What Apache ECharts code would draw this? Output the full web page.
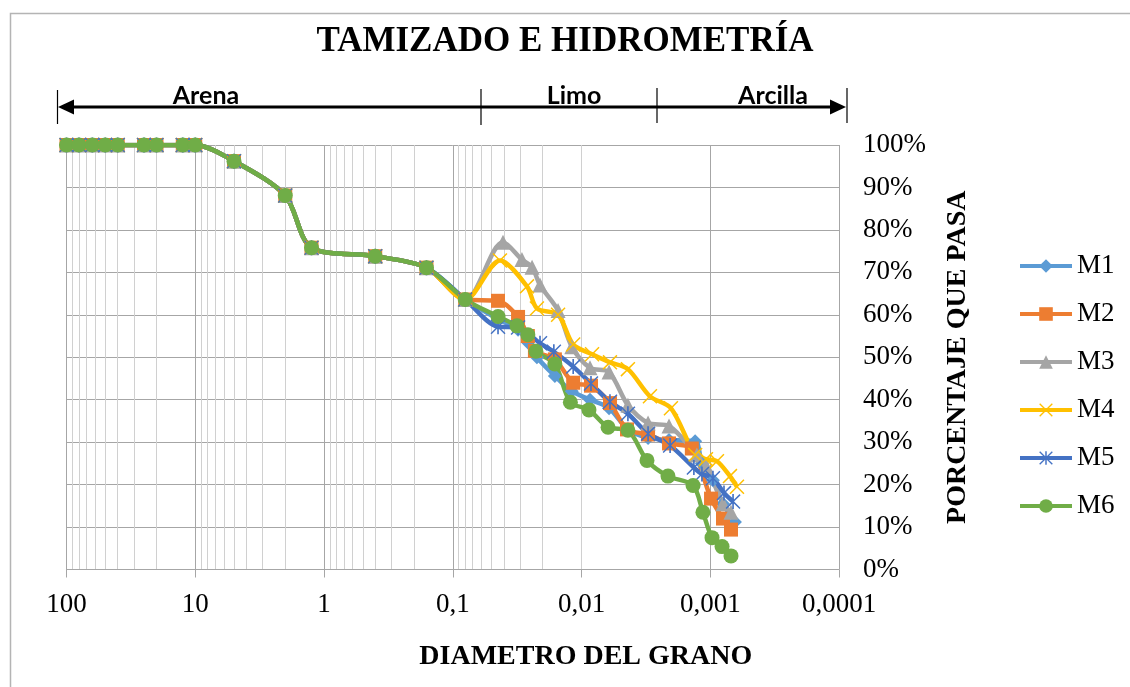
<!DOCTYPE html>
<html>
<head>
<meta charset="utf-8">
<script src="https://cdn.jsdelivr.net/npm/echarts@6/dist/echarts.min.js"></script>
<style>
html,body{margin:0;padding:0;background:#fff;}
#chart{width:1130px;height:687px;}
</style>
</head>
<body>
<div id="chart"></div>
<script>
// ---- Data ----
const seriesNames = ['M1', 'M2', 'M3', 'M4', 'M5', 'M6'];
// sieve analysis (mm) common to all samples
const sieveD = [100, 80, 63, 50, 40, 25, 20, 12.5, 10, 5, 2, 1.25, 0.4, 0.16, 0.08];
const sieveP = [100, 100, 100, 100, 100, 100, 100, 100, 100, 96.2, 88.1, 75.8, 73.8, 71.1, 63.6];
// hydrometer results per sample
const m1D = [0.0445, 0.0311, 0.0261, 0.0222, 0.0161, 0.0119, 0.00859, 0.00611, 0.00436, 0.00304, 0.00209, 0.00131, 0.00116, 0.000953, 0.000796, 0.000643];
const m1P = [59.0, 56.5, 53.5, 50.0, 45.6, 42.0, 40.0, 38.0, 33.0, 31.0, 30.5, 30.2, 25.0, 21.0, 15.5, 11.2];
const m2D = [0.0445, 0.0311, 0.0261, 0.0230, 0.0161, 0.0116, 0.00844, 0.00601, 0.00443, 0.00304, 0.00209, 0.00139, 0.000986, 0.000796, 0.000690];
const m2P = [63.3, 59.5, 55.0, 51.5, 49.5, 44.0, 43.3, 39.2, 33.0, 31.8, 29.7, 28.5, 16.7, 12.0, 9.4];
const m3D = [0.0407, 0.0290, 0.0242, 0.0210, 0.0152, 0.0119, 0.00859, 0.00611, 0.00436, 0.00304, 0.00209, 0.00127, 0.00108, 0.000796, 0.000690];
const m3P = [77.1, 73.0, 71.2, 67.0, 61.0, 52.5, 47.5, 46.5, 38.7, 34.5, 33.8, 27.0, 24.5, 15.5, 13.5];
const m4D = [0.0430, 0.0265, 0.0222, 0.0152, 0.0116, 0.00828, 0.00601, 0.00436, 0.00294, 0.00202, 0.00131, 0.00108, 0.000887, 0.000703, 0.000620];
const m4P = [72.8, 66.7, 61.5, 60.0, 53.0, 50.7, 48.8, 47.2, 40.8, 38.0, 27.0, 26.0, 25.5, 22.0, 19.5];
const m5D = [0.0445, 0.0311, 0.0210, 0.0164, 0.0116, 0.00844, 0.00601, 0.00436, 0.00304, 0.00205, 0.00134, 0.00116, 0.000953, 0.000782, 0.000665];
const m5P = [57.2, 57.0, 53.3, 51.3, 47.8, 43.8, 39.5, 36.7, 32.0, 29.2, 24.0, 22.5, 21.5, 18.0, 16.0];
const m6D = [0.0445, 0.0317, 0.0261, 0.0226, 0.0161, 0.0122, 0.00875, 0.00622, 0.00436, 0.00310, 0.00213, 0.00136, 0.00114, 0.000969, 0.000810, 0.000690];
const m6P = [59.6, 57.4, 55.3, 51.4, 48.4, 39.4, 37.6, 33.5, 32.8, 25.7, 22.0, 19.8, 13.5, 7.5, 5.4, 3.2];
// axis ticks
const xTickValues = [100, 10, 1, 0.1, 0.01, 0.001, 0.0001];
const xTickLabels = ['100', '10', '1', '0,1', '0,01', '0,001', '0,0001'];
const yTickValues = [0, 10, 20, 30, 40, 50, 60, 70, 80, 90, 100];
// zone annotation
const zoneNames = ['Arena', 'Limo', 'Arcilla'];

// ---- Styles ----
const colors = ['#5B9BD5', '#ED7D31', '#A5A5A5', '#FFC000', '#4472C4', '#70AD47'];
const xPath = 'path://M0,0.7 L0.7,0 L5,4.3 L9.3,0 L10,0.7 L5.7,5 L10,9.3 L9.3,10 L5,5.7 L0.7,10 L0,9.3 L4.3,5 Z';
const starPath = 'path://M0,0.7 L0.7,0 L5,4.3 L9.3,0 L10,0.7 L5.7,5 L10,9.3 L9.3,10 L5,5.7 L0.7,10 L0,9.3 L4.3,5 Z M4.45,0 L5.55,0 L5.55,10 L4.45,10 Z';
const symbols = ['diamond', 'rect', 'triangle', xPath, starPath, 'circle'];
const symbolSizes = [14, 14, 15, 15, 15, 15];
const serif = '"Liberation Serif", "Times New Roman", serif';

const hydro = [[m1D, m1P], [m2D, m2P], [m3D, m3P], [m4D, m4P], [m5D, m5P], [m6D, m6P]];
function buildData(h) {
  const out = sieveD.map((d, i) => [d, sieveP[i]]);
  h[0].forEach((d, i) => out.push([d, h[1][i]]));
  return out;
}

// minor log grid values
const minorGrid = [];
for (let k = -4; k <= 1; k++) {
  for (let m = 2; m <= 9; m++) minorGrid.push(+(m * Math.pow(10, k)).toPrecision(3));
}

const chart = echarts.init(document.getElementById('chart'), null, {renderer: 'canvas'});

const series = [{
  name: 'grid',
  type: 'line',
  data: [],
  silent: true,
  z: 0,
  markLine: {
    silent: true,
    z: 0,
    symbol: 'none',
    animation: false,
    label: {show: false},
    lineStyle: {color: '#d0d0d0', type: 'solid', width: 1},
    emphasis: {disabled: true},
    data: minorGrid.map(v => ({xAxis: v}))
  }
}];
seriesNames.forEach((n, i) => {
  series.push({
    name: n,
    type: 'line',
    data: buildData(hydro[i]),
    smooth: 0.3,
    symbol: symbols[i],
    symbolSize: symbolSizes[i],
    showAllSymbol: true,
    lineStyle: {color: colors[i], width: 4.5},
    itemStyle: {color: colors[i]},
    z: 3,
    animation: false
  });
});

chart.setOption({
  backgroundColor: '#fff',
  animation: false,
  title: {
    text: 'TAMIZADO E HIDROMETRÍA',
    left: 'center',
    top: 19,
    textStyle: {fontFamily: serif, fontSize: 35, fontWeight: 'bold', color: '#000'}
  },
  legend: {
    data: seriesNames,
    orient: 'vertical',
    left: 1018,
    top: 252,
    itemWidth: 52,
    itemHeight: 17,
    itemGap: 20,
    padding: 0,
    lineStyle: {width: 4},
    textStyle: {fontFamily: serif, fontSize: 27, color: '#000', lineHeight: 28}
  },
  grid: {left: 66.5, top: 145, width: 772.5, height: 424.5, containLabel: false},
  xAxis: {
    type: 'log',
    logBase: 10,
    min: 0.0001,
    max: 100,
    inverse: true,
    name: 'DIAMETRO DEL GRANO',
    nameLocation: 'middle',
    nameGap: 73,
    nameTextStyle: {fontFamily: serif, fontSize: 28, fontWeight: 'bold', color: '#000', padding: [0, 0, 0, 266]},
    axisLine: {show: true, lineStyle: {color: '#a6a6a6', width: 1}},
    axisTick: {show: true, length: 8, lineStyle: {color: '#a6a6a6'}},
    splitLine: {show: true, lineStyle: {color: '#a6a6a6', width: 1}},
    axisLabel: {
      margin: 22,
      fontFamily: serif,
      fontSize: 27,
      color: '#000',
      showMinLabel: true,
      showMaxLabel: true,
      formatter: function (v) {
        for (let i = 0; i < xTickValues.length; i++) {
          if (Math.abs(Math.log10(v) - Math.log10(xTickValues[i])) < 1e-6) return xTickLabels[i];
        }
        return '';
      }
    }
  },
  yAxis: {
    type: 'value',
    position: 'right',
    min: yTickValues[0],
    max: yTickValues[yTickValues.length - 1],
    interval: 10,
    name: 'PORCENTAJE QUE PASA',
    nameLocation: 'middle',
    nameRotate: 90,
    nameGap: 105,
    nameTextStyle: {fontFamily: serif, fontSize: 28, fontWeight: 'bold', color: '#000'},
    axisLine: {show: false},
    axisTick: {show: false},
    splitLine: {show: true, lineStyle: {color: '#a6a6a6', width: 1}},
    axisLabel: {margin: 24, fontFamily: serif, fontSize: 27, color: '#000', formatter: '{value}%'}
  },
  graphic: [
    {type: 'rect', z: -10, silent: true, shape: {x: 10.5, y: 13.5, width: 1200, height: 800}, style: {fill: 'none', stroke: '#b4b4b4', lineWidth: 1.5}},
    {type: 'line', silent: true, shape: {x1: 66, y1: 107, x2: 838, y2: 107}, style: {stroke: '#000', lineWidth: 3}},
    {type: 'polygon', silent: true, shape: {points: [[58, 107], [74, 99.5], [74, 114.5]]}, style: {fill: '#000'}},
    {type: 'polygon', silent: true, shape: {points: [[846, 107], [830, 99.5], [830, 114.5]]}, style: {fill: '#000'}},
    {type: 'line', silent: true, shape: {x1: 57.5, y1: 90, x2: 57.5, y2: 124}, style: {stroke: '#000', lineWidth: 1.2}},
    {type: 'line', silent: true, shape: {x1: 481, y1: 89, x2: 481, y2: 125}, style: {stroke: '#000', lineWidth: 1.2}},
    {type: 'line', silent: true, shape: {x1: 657, y1: 88, x2: 657, y2: 123}, style: {stroke: '#000', lineWidth: 1.2}},
    {type: 'line', silent: true, shape: {x1: 847, y1: 88, x2: 847, y2: 123}, style: {stroke: '#000', lineWidth: 1.2}},
    {type: 'text', silent: true, x: 206, y: 96, style: {text: zoneNames[0], font: 'bold 25px Lato, sans-serif', fill: '#000', align: 'center', verticalAlign: 'middle', textAlign: 'center', textVerticalAlign: 'middle'}},
    {type: 'text', silent: true, x: 574, y: 96, style: {text: zoneNames[1], font: 'bold 25px Lato, sans-serif', fill: '#000', align: 'center', verticalAlign: 'middle', textAlign: 'center', textVerticalAlign: 'middle'}},
    {type: 'text', silent: true, x: 773, y: 96, style: {text: zoneNames[2], font: 'bold 25px Lato, sans-serif', fill: '#000', align: 'center', verticalAlign: 'middle', textAlign: 'center', textVerticalAlign: 'middle'}}
  ],
  series: series
});
</script>
</body>
</html>
